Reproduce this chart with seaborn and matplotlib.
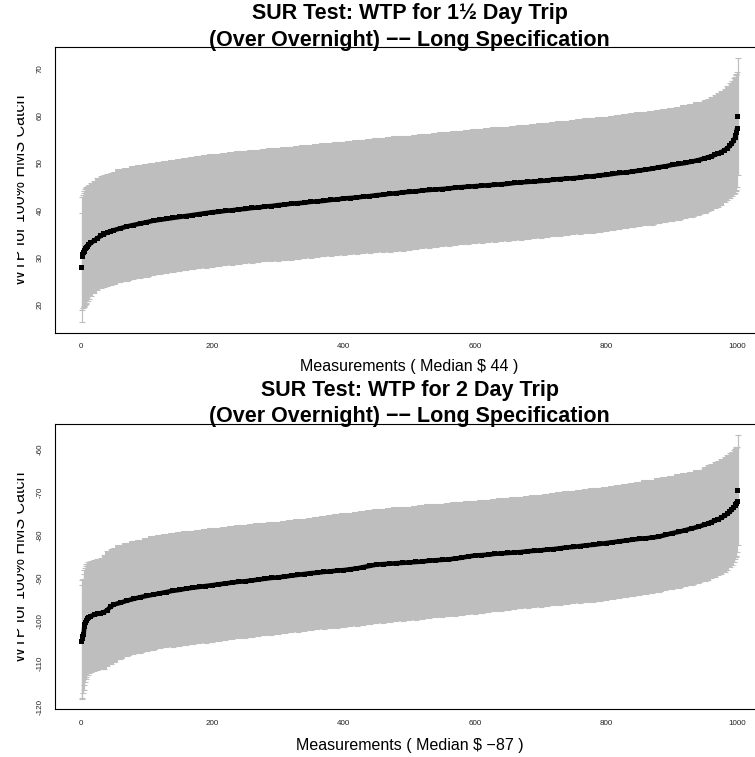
import numpy as np
import matplotlib
matplotlib.use("Agg")
import matplotlib.pyplot as plt
import seaborn as sns
from matplotlib.transforms import Bbox

# ---------------- data ----------------
IDX = [1, 2, 3, 4, 5, 6, 7, 8, 10, 12, 15, 20, 25, 30, 35, 40, 45,
       50, 60, 70, 80, 90, 100, 110, 120, 130, 140,
       150, 160, 170, 180, 190, 200, 210, 220, 230, 240,
       250, 260, 270, 280, 290, 300, 310, 320, 330, 340,
       350, 360, 370, 380, 390, 400, 410, 420, 430, 440,
       450, 460, 470, 480, 490, 500, 510, 520, 530, 540,
       550, 560, 570, 580, 590, 600, 610, 620, 630, 640,
       650, 660, 670, 680, 690, 700, 710, 720, 730, 740,
       750, 760, 770, 780, 790, 800, 810, 820, 830, 840,
       850, 860, 870, 880, 890, 900, 910, 920, 930, 940,
       950,
       955, 960, 965, 970, 975, 980, 984, 988, 991, 994, 996, 997, 998, 999, 1000]

TOP_MED = [27.9, 30.2, 30.6, 31.0, 31.3, 31.6, 31.9, 32.1, 32.4, 32.7, 33.1, 33.6, 34.1, 34.6, 35.0, 35.3, 35.6,
           35.8, 36.2, 36.6, 36.9, 37.2, 37.5, 37.8, 38.0, 38.2, 38.4,
           38.6, 38.8, 39.0, 39.2, 39.4, 39.6, 39.7, 39.9, 40.0, 40.2,
           40.3, 40.5, 40.6, 40.8, 40.9, 41.1, 41.2, 41.4, 41.5, 41.6,
           41.8, 41.9, 42.0, 42.2, 42.3, 42.5, 42.6, 42.7, 42.9, 43.0,
           43.2, 43.3, 43.5, 43.6, 43.8, 43.9, 44.0, 44.2, 44.3, 44.4,
           44.5, 44.6, 44.8, 44.9, 45.0, 45.1, 45.2, 45.3, 45.4, 45.5,
           45.6, 45.8, 45.9, 46.0, 46.1, 46.2, 46.3, 46.5, 46.6, 46.7,
           46.8, 46.9, 47.1, 47.2, 47.4, 47.5, 47.7, 47.9, 48.0, 48.2,
           48.4, 48.6, 48.8, 49.1, 49.3, 49.6, 49.8, 50.0, 50.3, 50.6,
           51.0,
           51.2, 51.4, 51.7, 52.0, 52.3, 52.7, 53.1, 53.6, 54.1, 54.8, 55.4, 55.9, 56.5, 57.3, 59.8]

TOP_HI = [39.4, 42.9, 43.3, 43.6, 44.0, 44.5, 44.7, 44.9, 45.1, 45.4, 45.8, 46.3, 46.8, 47.2, 47.5, 47.7, 47.9,
          48.1, 48.7, 49.0, 49.3, 49.6, 49.8, 50.0, 50.3, 50.5, 50.7,
          50.9, 51.1, 51.3, 51.5, 51.7, 51.9, 52.0, 52.2, 52.3, 52.5,
          52.6, 52.7, 52.8, 53.0, 53.1, 53.2, 53.3, 53.4, 53.6, 53.7,
          53.9, 54.0, 54.2, 54.3, 54.4, 54.5, 54.7, 54.8, 54.9, 55.1,
          55.2, 55.3, 55.4, 55.6, 55.7, 55.8, 55.9, 56.1, 56.2, 56.3,
          56.5, 56.6, 56.7, 56.8, 57.0, 57.1, 57.2, 57.4, 57.5, 57.6,
          57.7, 57.9, 58.0, 58.1, 58.3, 58.4, 58.5, 58.7, 58.8, 58.9,
          59.1, 59.2, 59.4, 59.5, 59.7, 59.8, 60.0, 60.2, 60.3, 60.5,
          60.7, 60.8, 61.0, 61.2, 61.4, 61.7, 61.9, 62.2, 62.5, 62.9,
          63.3,
          63.6, 63.9, 64.3, 64.7, 65.2, 65.7, 66.2, 66.8, 67.3, 67.9, 68.2, 68.5, 68.9, 69.3, 72.1]

TOP_LO = [16.5, 18.9, 19.3, 19.6, 19.8, 20.1, 20.3, 20.5, 20.9, 21.3, 21.9, 22.6, 23.1, 23.5, 23.8, 24.0, 24.2,
          24.4, 24.8, 25.1, 25.4, 25.7, 26.0, 26.3, 26.5, 26.8, 27.0,
          27.2, 27.4, 27.6, 27.8, 27.9, 28.1, 28.2, 28.4, 28.5, 28.7,
          28.8, 28.9, 29.1, 29.2, 29.3, 29.4, 29.5, 29.6, 29.7, 29.9,
          30.0, 30.1, 30.3, 30.4, 30.5, 30.6, 30.7, 30.8, 30.9, 31.0,
          31.1, 31.2, 31.3, 31.4, 31.5, 31.7, 31.8, 32.0, 32.1, 32.2,
          32.4, 32.5, 32.6, 32.8, 32.9, 33.0, 33.1, 33.3, 33.4, 33.5,
          33.6, 33.7, 33.8, 33.9, 34.1, 34.2, 34.3, 34.5, 34.6, 34.8,
          34.9, 35.0, 35.2, 35.3, 35.5, 35.6, 35.8, 36.0, 36.2, 36.4,
          36.6, 36.8, 37.0, 37.3, 37.5, 37.8, 38.0, 38.3, 38.6, 39.0,
          39.5,
          39.8, 40.1, 40.4, 40.8, 41.2, 41.7, 42.1, 42.6, 43.0, 43.4, 43.7, 44.0, 44.4, 45.0, 47.5]

BOT_MED = [-104.9, -104.2, -103.7, -103.2, -101.4, -100.9, -100.4, -100.0, -99.5, -99.2, -98.9, -98.6, -98.4, -98.2, -98.0, -97.5, -96.7,
           -96.2, -95.8, -95.3, -94.9, -94.5, -94.2, -93.9, -93.6, -93.3, -93.0,
           -92.8, -92.5, -92.3, -92.1, -91.9, -91.7, -91.5, -91.3, -91.1, -90.9,
           -90.8, -90.6, -90.4, -90.2, -90.0, -89.9, -89.7, -89.5, -89.3, -89.1,
           -88.9, -88.8, -88.6, -88.5, -88.3, -88.2, -88.0, -87.8, -87.5, -87.2,
           -86.9, -86.8, -86.7, -86.6, -86.5, -86.4, -86.3, -86.2, -86.0, -85.9,
           -85.8, -85.7, -85.5, -85.3, -85.0, -84.8, -84.7, -84.6, -84.4, -84.3,
           -84.2, -84.1, -84.0, -83.8, -83.7, -83.6, -83.4, -83.3, -83.1, -82.9,
           -82.8, -82.6, -82.4, -82.3, -82.1, -81.9, -81.7, -81.5, -81.3, -81.1,
           -80.9, -80.8, -80.6, -80.4, -80.0, -79.6, -79.3, -78.9, -78.5, -78.1,
           -77.6,
           -77.3, -77.0, -76.7, -76.4, -76.0, -75.5, -75.1, -74.6, -74.1, -73.6, -73.2, -72.9, -72.6, -72.3, -69.6]

BOT_HI = [-91.7, -90.5, -90.2, -89.0, -88.2, -87.6, -87.2, -86.8, -86.4, -86.2, -86.0, -85.8, -85.6, -85.3, -84.6, -83.8, -83.3,
          -83.0, -82.3, -81.9, -81.5, -81.1, -80.7, -80.3, -80.0, -79.8, -79.6,
          -79.4, -79.2, -79.0, -78.8, -78.7, -78.5, -78.3, -78.2, -78.0, -77.8,
          -77.7, -77.5, -77.3, -77.2, -77.0, -76.9, -76.7, -76.6, -76.4, -76.3,
          -76.1, -75.9, -75.7, -75.4, -75.2, -75.0, -74.8, -74.7, -74.5, -74.3,
          -74.0, -73.9, -73.8, -73.6, -73.5, -73.4, -73.2, -73.1, -72.9, -72.8,
          -72.7, -72.6, -72.4, -72.3, -72.2, -72.1, -71.9, -71.8, -71.6, -71.5,
          -71.4, -71.2, -71.1, -70.9, -70.7, -70.6, -70.4, -70.2, -70.0, -69.8,
          -69.7, -69.5, -69.3, -69.1, -69.0, -68.8, -68.6, -68.3, -68.1, -67.8,
          -67.6, -67.3, -67.1, -66.8, -66.5, -66.2, -65.9, -65.6, -65.3, -64.8,
          -64.1,
          -63.7, -63.4, -63.0, -62.7, -62.3, -61.9, -61.4, -61.0, -60.6, -60.2, -60.0, -59.8, -59.6, -59.5, -56.7]

BOT_LO = [-118.1, -118.0, -116.8, -116.0, -115.0, -114.2, -113.6, -113.1, -112.6, -112.2, -112.0, -111.7, -111.5, -111.3, -111.1, -110.6, -110.0,
          -109.6, -108.8, -108.3, -107.8, -107.4, -107.0, -106.7, -106.4, -106.2, -106.0,
          -105.8, -105.6, -105.4, -105.2, -105.1, -104.9, -104.7, -104.5, -104.3, -104.1,
          -103.9, -103.7, -103.5, -103.3, -103.2, -103.0, -102.8, -102.6, -102.5, -102.3,
          -102.2, -102.0, -101.9, -101.7, -101.6, -101.4, -101.2, -101.1, -100.9, -100.7,
          -100.5, -100.4, -100.3, -100.1, -100.0, -99.8, -99.7, -99.5, -99.4, -99.2,
          -99.1, -98.9, -98.8, -98.6, -98.5, -98.3, -98.1, -98.0, -97.8, -97.6,
          -97.5, -97.3, -97.1, -97.0, -96.8, -96.7, -96.5, -96.4, -96.2, -96.1,
          -95.9, -95.8, -95.6, -95.5, -95.3, -95.2, -95.0, -94.7, -94.5, -94.2,
          -94.0, -93.7, -93.5, -93.2, -92.9, -92.6, -92.3, -92.0, -91.7, -91.2,
          -90.7,
          -90.4, -90.1, -89.8, -89.4, -89.1, -88.7, -88.2, -87.5, -86.9, -86.2, -85.7, -85.2, -84.8, -84.0, -82.4]

X_TICKS = [0, 200, 400, 600, 800, 1000]
TOP_YTICKS = [20, 30, 40, 50, 60, 70]
BOT_YTICKS = [-120, -110, -100, -90, -80, -70, -60]

TOP_TITLE = ["SUR Test: WTP for 1\u00bd Day Trip", "(Over Overnight) \u2212\u2212 Long Specification"]
BOT_TITLE = ["SUR Test: WTP for 2 Day Trip", "(Over Overnight) \u2212\u2212 Long Specification"]
TOP_XLABEL = "Measurements ( Median $ 44 )"
BOT_XLABEL = "Measurements ( Median $ \u221287 )"
YLABEL = "WTP for 100% HMS Catch"

for arr in (TOP_MED, TOP_HI, TOP_LO, BOT_MED, BOT_HI, BOT_LO):
    assert len(arr) == len(IDX), len(arr)

# ---------------- styling ----------------
sns.set_style("white")
plt.rcParams['font.family'] = ['Liberation Sans', 'DejaVu Sans']
plt.rcParams['text.color'] = 'black'
plt.rcParams['axes.labelcolor'] = 'black'

W, H, DPI = 755, 757, 100
fig = plt.figure(figsize=(W / DPI, H / DPI), dpi=DPI)

XLIM = (-39.96, 1040.96)
PX_PER_X = 0.6567
AX_LEFT = 54.76
AX_W = (XLIM[1] - XLIM[0]) * PX_PER_X
BAND = "#BEBEBE"


def panel(top, bottom, ylim, yticks, med, lo, hi, title, xlabel, xlab_off):
    ax = fig.add_axes([AX_LEFT / W, 1 - bottom / H, AX_W / W, (bottom - top) / H])
    x = np.asarray(IDX, float)
    med = np.asarray(med); lo = np.asarray(lo); hi = np.asarray(hi)

    gaps = np.diff(x)
    w = np.empty_like(x)
    w[0] = gaps[0]; w[-1] = gaps[-1]
    w[1:-1] = (gaps[:-1] + gaps[1:]) / 2
    lw_pt = np.maximum(w * PX_PER_X * 1.5, 1.2) * 72 / DPI
    ax.vlines(x, lo, hi, colors=BAND, linewidths=lw_pt, zorder=1)
    cap = 4.5
    ax.hlines(lo, x - cap, x + cap, colors=BAND, linewidths=0.8, zorder=1)
    ax.hlines(hi, x - cap, x + cap, colors=BAND, linewidths=0.8, zorder=1)

    sl = slice(1, len(x) - 1)
    sns.lineplot(x=x[sl], y=med[sl], ax=ax, color="black", linewidth=3.3,
                 estimator=None, sort=False, zorder=3)
    sns.scatterplot(x=x, y=med, ax=ax, marker="s", s=13, color="black",
                    edgecolor="none", linewidth=0, zorder=4)

    ax.set_xlim(*XLIM)
    ax.set_ylim(*ylim)
    ax.set_xticks(X_TICKS)
    ax.set_xticklabels([str(t) for t in X_TICKS])
    ax.set_yticks(yticks)
    ax.set_yticklabels([str(t) for t in yticks])
    ax.tick_params(axis="both", direction="out", length=4.2, width=0.7,
                   labelsize=5.8, labelcolor="#222222", color="black", pad=3.5)
    ax.tick_params(axis="y", labelrotation=90)
    for lab in ax.get_yticklabels():
        lab.set_va("center")
    for s in ("left", "bottom", "top", "right"):
        ax.spines[s].set_color("black")
        ax.spines[s].set_linewidth(0.8)
    ax.set_xlabel(""); ax.set_ylabel("")
    ax.grid(False)

    cx = (AX_LEFT + AX_W / 2) / W
    fig.text(cx, 1 - (top - 27.8) / H, title[0], ha="center", va="baseline",
             fontsize=15.5, fontweight="bold", color="black")
    fig.text(cx, 1 - (top - 1.6) / H, title[1], ha="center", va="baseline",
             fontsize=15.5, fontweight="bold", color="black")
    fig.text(cx, 1 - (bottom + xlab_off) / H, xlabel, ha="center", va="baseline",
             fontsize=11.5, color="black")
    yl = fig.text(25.5 / W, 1 - ((top + bottom) / 2) / H, YLABEL, rotation=90,
                  rotation_mode="anchor", ha="center", va="baseline",
                  fontsize=11.5, color="black")
    yl.set_clip_box(Bbox.from_extents(16.5, 0, 200, H))
    yl.set_clip_on(True)
    return ax


panel(47.3, 332.7, (14.15, 74.44), TOP_YTICKS, TOP_MED, TOP_LO, TOP_HI,
      TOP_TITLE, TOP_XLABEL, 38.3)
panel(423.7, 709.3, (-120.6, -54.1), BOT_YTICKS, BOT_MED, BOT_LO, BOT_HI,
      BOT_TITLE, BOT_XLABEL, 40.5)

fig.savefig("out.png", dpi=DPI, facecolor="white")
